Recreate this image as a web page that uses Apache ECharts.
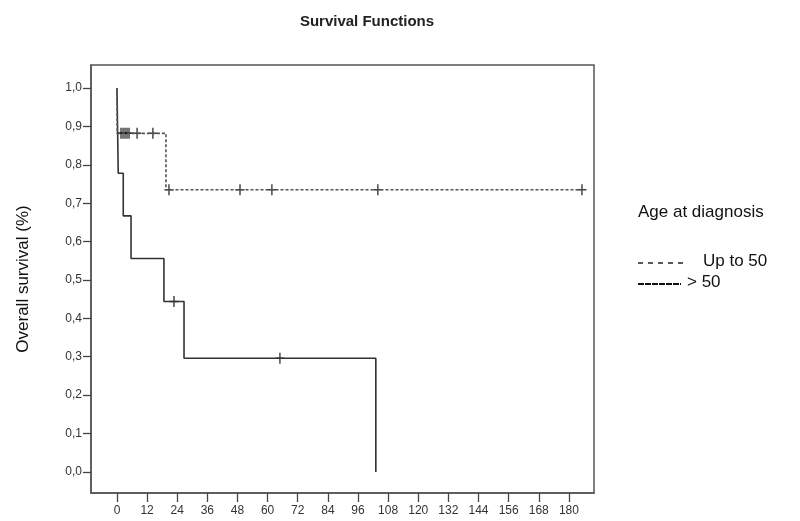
<!DOCTYPE html>
<html>
<head>
<meta charset="utf-8">
<script src="https://cdn.jsdelivr.net/npm/echarts@6/dist/echarts.min.js"></script>
<style>
  html, body { margin: 0; padding: 0; background: #fff; }
  #main { width: 800px; height: 521px; }
</style>
</head>
<body>
<div id="main"></div>
<script>
// Kaplan-Meier steps: time (months) where the survival drops, and the new value
var youngTimes = [0, 0.1, 19.5, 185.2];
var youngSurv = [1, 0.882, 0.735, 0.735];
var youngCensor = [1.6, 2.4, 3.2, 4.0, 4.8, 8.0, 14.3, 20.7, 49.0, 61.7, 103.9, 185.2];

var oldTimes = [0, 0.5, 2.5, 5.6, 18.7, 26.7, 103.1];
var oldSurv = [1, 0.778, 0.667, 0.556, 0.444, 0.296, 0];
var oldCensor = [22.7, 64.9];

var xTicks = [0, 12, 24, 36, 48, 60, 72, 84, 96, 108, 120, 132, 144, 156, 168, 180];
var yTicks = [0, 0.1, 0.2, 0.3, 0.4, 0.5, 0.6, 0.7, 0.8, 0.9, 1.0];

// survival value of a step curve at time t (for the censor marks)
function survAt(times, surv, t) {
  var v = surv[0];
  for (var i = 0; i < times.length; i++) {
    if (times[i] <= t) v = surv[i];
  }
  return v;
}

function pairs(times, surv) {
  return times.map(function (t, i) { return [t, surv[i]]; });
}

// plus sign for censored cases
var plus = 'path://M4.2,0H5.8V4.3H10V5.7H5.8V10H4.2V5.7H0V4.3H4.2Z';

var chart = echarts.init(document.getElementById('main'));
var font = 'Liberation Sans, Arial, sans-serif';

chart.setOption({
  animation: false,
  textStyle: { fontFamily: font },
  title: {
    text: 'Survival Functions',
    left: 362, top: 9, textAlign: 'center',
    textStyle: { fontSize: 15, fontWeight: 'bold', color: '#222', fontFamily: font }
  },
  grid: {
    left: 91, right: 206, top: 65, bottom: 28,
    show: true, borderColor: '#555', borderWidth: 1.5, backgroundColor: '#fff'
  },
  xAxis: {
    type: 'value', min: -10.35, max: 190,
    axisLine: { onZero: false, lineStyle: { color: '#555', width: 1.5 } },
    splitLine: { show: false },
    axisTick: { customValues: xTicks, length: 9, lineStyle: { color: '#444', width: 1.3 } },
    axisLabel: { customValues: xTicks, margin: 12, fontSize: 12, color: '#333', fontFamily: font }
  },
  yAxis: {
    type: 'value', min: -0.055, max: 1.06,
    name: 'Overall survival (%)', nameLocation: 'middle', nameGap: 59,
    nameTextStyle: { fontSize: 17, color: '#111', fontFamily: font },
    axisLine: { onZero: false, lineStyle: { color: '#555', width: 1.5 } },
    splitLine: { show: false },
    axisTick: { customValues: yTicks, length: 8, lineStyle: { color: '#444', width: 1.3 } },
    axisLabel: {
      customValues: yTicks, margin: 9, fontSize: 12, color: '#333', fontFamily: font,
      formatter: function (v) { return v.toFixed(1).replace('.', ','); }
    }
  },
  series: [
    {
      name: '> 50', type: 'line', step: 'end', showSymbol: false,
      data: pairs(oldTimes, oldSurv),
      lineStyle: { color: '#333', width: 1.6 }
    },
    {
      name: 'Up to 50', type: 'line', step: 'end', showSymbol: false,
      data: pairs(youngTimes, youngSurv),
      lineStyle: { color: '#555', width: 1.6, type: [3, 2] }
    },
    {
      type: 'scatter', symbol: plus, symbolSize: [9, 11],
      data: oldCensor.map(function (t) { return [t, survAt(oldTimes, oldSurv, t)]; }),
      itemStyle: { color: '#111' }
    },
    {
      type: 'scatter', symbol: plus, symbolSize: [9, 11],
      data: youngCensor.map(function (t) { return [t, survAt(youngTimes, youngSurv, t)]; }),
      itemStyle: { color: '#111' }
    }
  ],
  graphic: [
    { type: 'text', left: 638, top: 204,
      style: { text: 'Age at diagnosis', fontSize: 17, fill: '#111', fontFamily: font } },
    { type: 'line', shape: { x1: 638, y1: 263, x2: 688, y2: 263 },
      style: { stroke: '#222', lineWidth: 1.5, lineDash: [5, 5] } },
    { type: 'text', left: 703, top: 253,
      style: { text: 'Up to 50', fontSize: 17, fill: '#111', fontFamily: font } },
    { type: 'line', shape: { x1: 638, y1: 284, x2: 681, y2: 284 },
      style: { stroke: '#111', lineWidth: 2, lineDash: [6, 1] } },
    { type: 'text', left: 687, top: 274,
      style: { text: '> 50', fontSize: 17, fill: '#111', fontFamily: font } }
  ]
});
</script>
</body>
</html>
